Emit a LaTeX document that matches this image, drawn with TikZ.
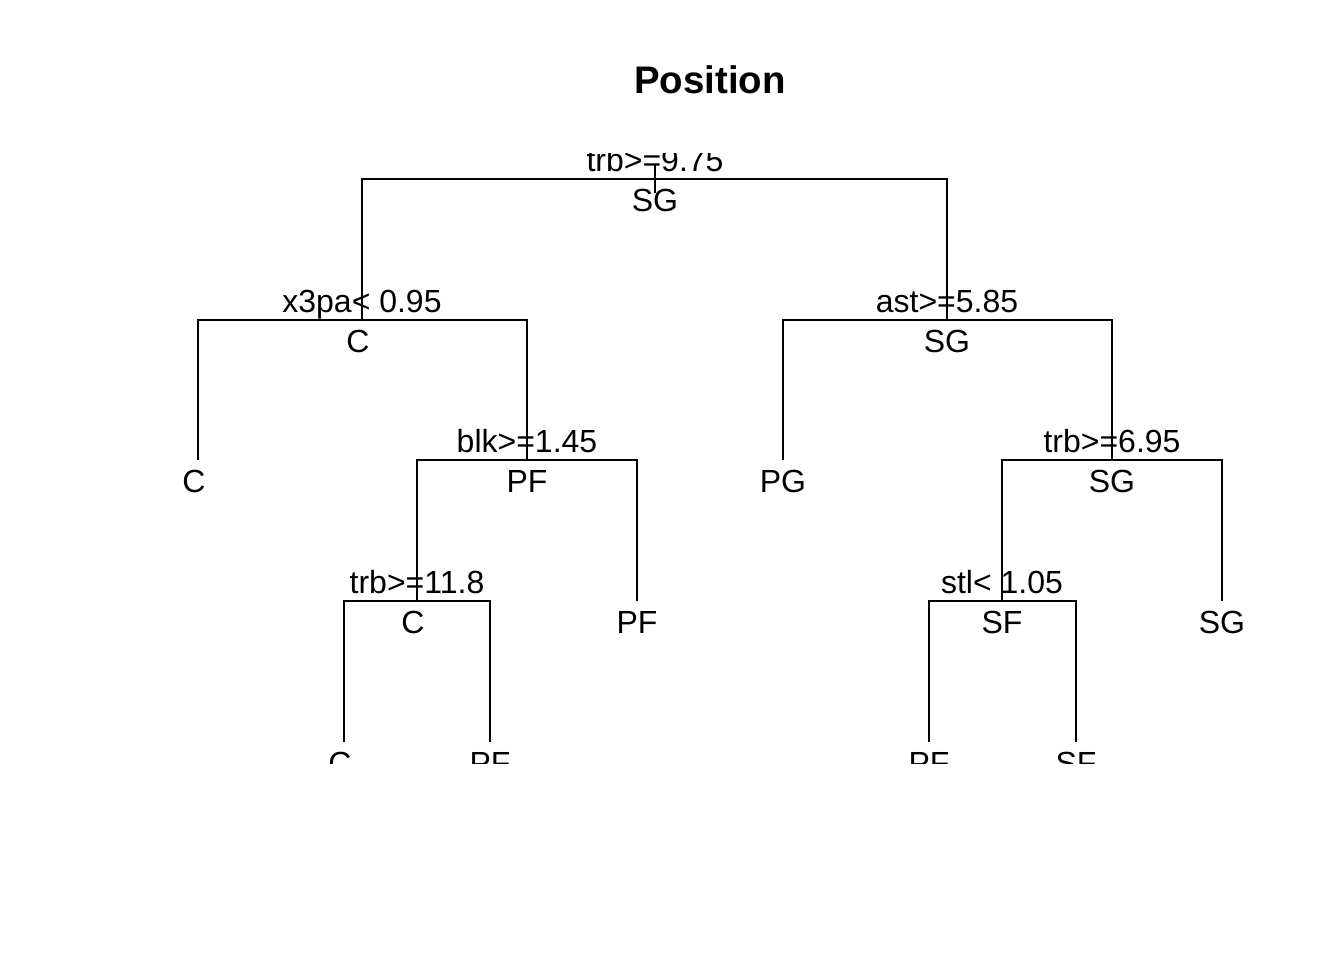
\documentclass[tikz,border=0pt]{standalone}
\usepackage{fontspec}
\setmainfont{Liberation Sans}
\begin{document}
\begin{tikzpicture}[x=0.5pt,y=-0.5pt,line width=1pt,
  lbl/.style={anchor=base,inner sep=0pt,font=\fontsize{16}{16}\selectfont}]
  \useasboundingbox (0,0) rectangle (1344,960);
  \node[anchor=base,inner sep=0pt,font=\bfseries\fontsize{19.2}{20}\selectfont]
    (title) at (710,93) {Position};
  \begin{scope}
    \clip (100,153) rectangle (1300,763);
    % split points
    \coordinate (root) at (655,179);
    \coordinate (rtop) at (655,165);
    \coordinate (rbot) at (655,193);
    \coordinate (xpa) at (362,320);
    \coordinate (ast) at (947,320);
    \coordinate (leafC) at (198,460);
    \coordinate (blk) at (527,460);
    \coordinate (leafPG) at (783,460);
    \coordinate (trbB) at (1112,460);
    \coordinate (trbC) at (417,601);
    \coordinate (leafPFa) at (637,601);
    \coordinate (stl) at (1002,601);
    \coordinate (leafSG) at (1222,601);
    \coordinate (leafCb) at (344,742);
    \coordinate (leafPFb) at (490,742);
    \coordinate (leafPFc) at (929,742);
    \coordinate (leafSF) at (1076,742);
    % branches
    \draw (rtop) -- (rbot);
    \draw (root) -| (xpa);
    \draw (root) -| (ast);
    \draw (xpa) -| (leafC);
    \draw (xpa) -| (blk);
    \draw (blk) -| (trbC);
    \draw (blk) -| (leafPFa);
    \draw (trbC) -| (leafCb);
    \draw (trbC) -| (leafPFb);
    \draw (ast) -| (leafPG);
    \draw (ast) -| (trbB);
    \draw (trbB) -| (stl);
    \draw (trbB) -| (leafSG);
    \draw (stl) -| (leafPFc);
    \draw (stl) -| (leafSF);
    % labels
    \node[lbl] (rootS) at (655,171) {trb>=9.75};
    \node[lbl] (rootY) at (655,211) {SG};
    \node[lbl] (xpaS) at (362,312) {x3pa< 0.95};
    \node[lbl] (xpaY) at (358,352) {C};
    \node[lbl] (astS) at (947,312) {ast>=5.85};
    \node[lbl] (astY) at (947,352) {SG};
    \node[lbl] (leafCY) at (194,492) {C};
    \node[lbl] (blkS) at (527,452) {blk>=1.45};
    \node[lbl] (blkY) at (527,492) {PF};
    \node[lbl] (leafPGY) at (783,492) {PG};
    \node[lbl] (trbBS) at (1112,452) {trb>=6.95};
    \node[lbl] (trbBY) at (1112,492) {SG};
    \node[lbl] (trbCS) at (417,593) {trb>=11.8};
    \node[lbl] (trbCY) at (413,633) {C};
    \node[lbl] (leafPFaY) at (637,633) {PF};
    \node[lbl] (stlS) at (1002,593) {stl< 1.05};
    \node[lbl] (stlY) at (1002,633) {SF};
    \node[lbl] (leafSGY) at (1222,633) {SG};
    \node[lbl] (leafCbY) at (340,774) {C};
    \node[lbl] (leafPFbY) at (490,774) {PF};
    \node[lbl] (leafPFcY) at (929,774) {PF};
    \node[lbl] (leafSFY) at (1076,774) {SF};
  \end{scope}
\end{tikzpicture}
\end{document}
